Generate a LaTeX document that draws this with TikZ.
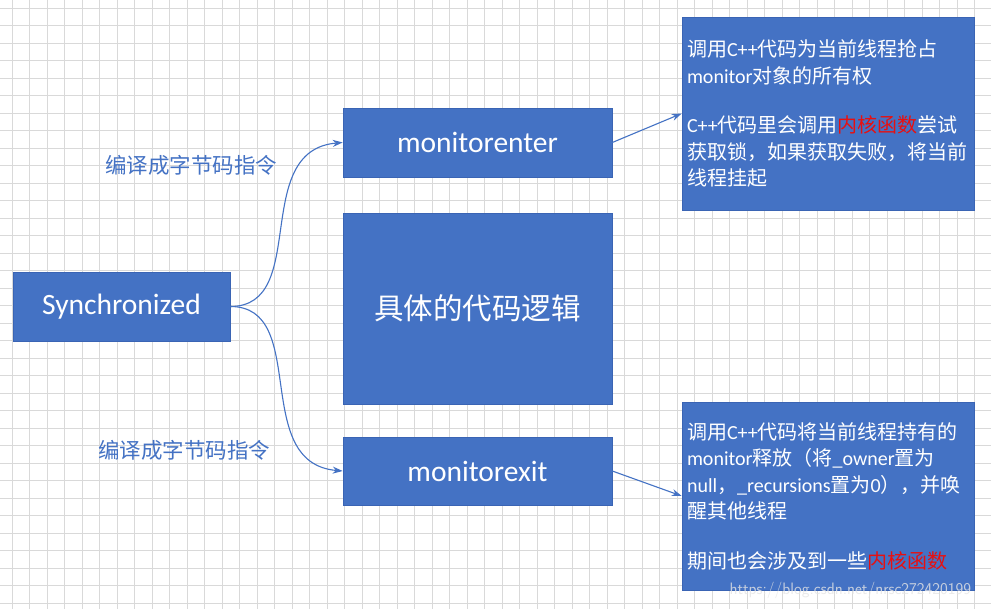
\documentclass[tikz,border=0pt]{standalone}
\usepackage{fontspec}
\setmainfont{Carlito}
\newfontfamily\cjk{Noto Sans CJK SC}
\newcommand\en[1]{{\rmfamily #1}}
\usetikzlibrary{arrows.meta}
\definecolor{boxblue}{HTML}{4472C4}
\definecolor{boxedge}{HTML}{3A64B4}
\definecolor{hotred}{HTML}{E81010}
\definecolor{gridgray}{HTML}{D9D9D9}
\tikzset{
  gridline/.style={draw=gridgray,line width=0.7pt},
  bluebox/.style={fill=boxblue,draw=boxedge,line width=0.6pt,text=white,inner sep=0pt},
  notebox/.style={bluebox,font=\cjk\fontsize{20}{26.5}\selectfont,align=left,
    text width=282pt,minimum width=292pt},
  linkarrow/.style={draw=boxblue,line width=1.1pt,-{Stealth[length=10pt,width=7pt]}},
  steplabel/.style={text=boxblue,font=\cjk\fontsize{21.5}{24}\selectfont}
}
\begin{document}
\begin{tikzpicture}[x=1pt,y=-1pt]
\useasboundingbox (0,0) rectangle (991,609);
\fill[white] (0,0) rectangle (991,609);
% grid
\foreach \i in {0,...,55}
  \draw[gridline] ({12.3+17.5*\i},0) -- ++(0,609);
\foreach \j in {0,...,34}
  \draw[gridline] (0,{8.3+17.5*\j}) -- ++(991,0);
% boxes
\node[bluebox,minimum width=217pt,minimum height=69pt,font=\fontsize{29.5}{32}\selectfont]
  (sync) at (121.5,306.5) {Synchronized};
\node[bluebox,minimum width=269pt,minimum height=69pt,font=\fontsize{29.5}{32}\selectfont]
  (enter) at (477.5,142.5) {monitorenter};
\node[bluebox,minimum width=269pt,minimum height=191pt,font=\cjk\fontsize{29.5}{32}\selectfont]
  (logic) at (477.5,308.5) {具体的代码逻辑};
\node[bluebox,minimum width=269pt,minimum height=68pt,font=\fontsize{29.5}{32}\selectfont]
  (exit) at (477.5,471) {monitorexit};
\node[notebox,minimum height=193pt] (enternote) at (828,113.5)
  {调用\en{C++}代码为当前线程抢占\\
   \en{monitor}对象的所有权\\[23pt]
   \en{C++}代码里会调用\textcolor{hotred}{内核函数}尝试\\
   获取锁，如果获取失败，将当前\\
   线程挂起};
\node[notebox,minimum height=188pt] (exitnote) at (828,496)
  {调用\en{C++}代码将当前线程持有的\\
   \en{monitor}释放（将\en{\_owner}置为\\
   \en{null}，\en{\_recursions}置为\en{0}），并唤\\
   醒其他线程\\[23pt]
   期间也会涉及到一些\textcolor{hotred}{内核函数}};
% labels
\node[steplabel] (upper) at (191,165) {编译成字节码指令};
\node[steplabel] (lower) at (184,450) {编译成字节码指令};
% connectors
\draw[linkarrow] (sync.east) .. controls +(80,0) and +(-93,8) .. (enter.west);
\draw[linkarrow] (sync.east) .. controls +(80,0) and +(-93,-8) .. (exit.west);
\draw[linkarrow] (enter.east) -- (enternote.west);
\draw[linkarrow] (exit.east) -- (exitnote.west);
% watermark
\node[text=white!80!gray,opacity=0.8,font=\sffamily\fontsize{16.5}{18}\selectfont,anchor=west]
  (mark) at (726,590) {https://blog.csdn.net/nrsc272420199};
\end{tikzpicture}
\end{document}
